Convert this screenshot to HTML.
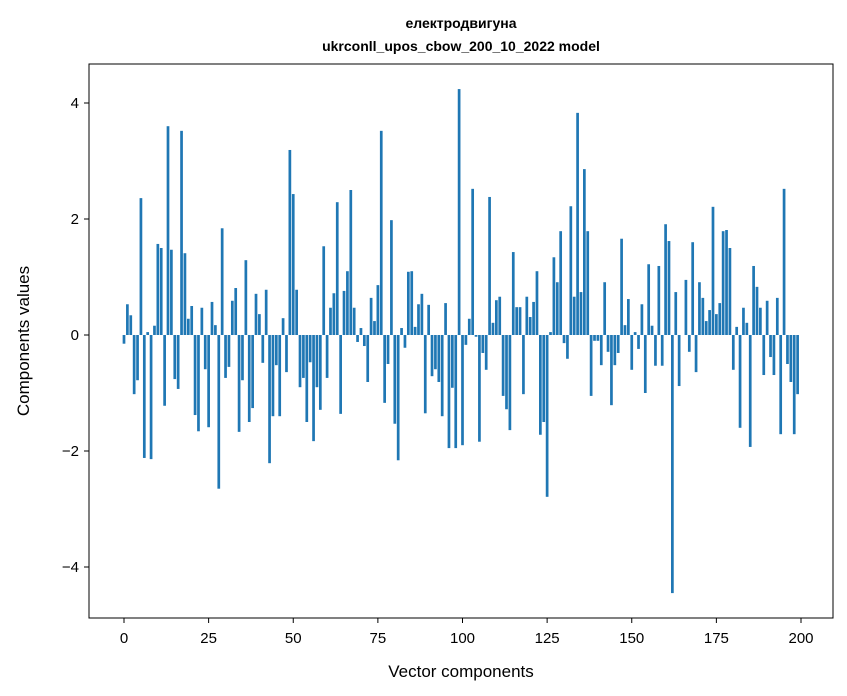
<!DOCTYPE html>
<html><head><meta charset="utf-8"><style>
body{margin:0;background:#fff}
svg{display:block;font-family:"Liberation Sans","DejaVu Sans",sans-serif}
</style></head><body>
<svg id="chart" width="847" height="696" viewBox="0 0 847 696">
<rect width="847" height="696" fill="#fff"/>
<text x="461" y="28" text-anchor="middle" font-size="14" font-weight="bold">електродвигуна</text>
<text x="461" y="51" text-anchor="middle" font-size="14" font-weight="bold">ukrconll_upos_cbow_200_10_2022 model</text>
<g id="bars"></g>
<g id="axes"></g>
<rect x="89" y="64" width="744" height="554" fill="none" stroke="#000" stroke-width="1"/>
<text x="461" y="677" text-anchor="middle" font-size="17">Vector components</text>
<text transform="translate(29,341) rotate(-90)" text-anchor="middle" font-size="17">Components values</text>
</svg>
<script>
const values = [
-0.15,0.53,0.34,-1.02,-0.78,2.36,-2.12,0.05,-2.14,0.16,
1.57,1.5,-1.22,3.6,1.47,-0.76,-0.93,3.52,1.41,0.28,
0.5,-1.38,-1.66,0.47,-0.59,-1.59,0.57,0.17,-2.65,1.84,
-0.74,-0.55,0.59,0.81,-1.67,-0.78,1.29,-1.5,-1.26,0.71,
0.36,-0.48,0.78,-2.21,-1.4,-0.52,-1.4,0.29,-0.64,3.19,
2.43,0.78,-0.9,-0.74,-1.5,-0.47,-1.83,-0.9,-1.29,1.53,
-0.74,0.47,0.72,2.29,-1.36,0.76,1.1,2.5,0.47,-0.12,
0.12,-0.19,-0.81,0.64,0.24,0.86,3.52,-1.17,-0.5,1.98,
-1.53,-2.16,0.12,-0.22,1.09,1.1,0.14,0.53,0.71,-1.35,
0.52,-0.71,-0.59,-0.81,-1.4,0.55,-1.95,-0.91,-1.95,4.24,
-1.9,-0.17,0.28,2.52,-0.03,-1.84,-0.31,-0.6,2.38,0.21,
0.6,0.66,-1.05,-1.28,-1.64,1.43,0.48,0.48,-1.02,0.66,
0.31,0.57,1.1,-1.72,-1.5,-2.79,0.05,1.34,0.91,1.79,
-0.14,-0.41,2.22,0.66,3.83,0.74,2.86,1.79,-1.05,-0.1,
-0.1,-0.52,0.91,-0.29,-1.21,-0.52,-0.31,1.66,0.17,0.62,
-0.6,0.05,-0.24,0.53,-1.0,1.22,0.16,-0.53,1.19,-0.53,
1.91,1.62,-4.45,0.74,-0.88,0.0,0.95,-0.29,1.6,-0.64,
0.91,0.64,0.24,0.43,2.21,0.36,0.55,1.79,1.81,1.5,
-0.6,0.14,-1.6,0.47,0.21,-1.93,1.19,0.83,0.47,-0.69,
0.59,-0.38,-0.69,0.64,-1.71,2.52,-0.5,-0.81,-1.71,-1.02
];
const xTicks = [0,25,50,75,100,125,150,175,200];
const yTicks = [-4,-2,0,2,4];
const yTickLabels = ["\u22124","\u22122","0","2","4"];

const NS = "http://www.w3.org/2000/svg";
const xs = v => 124 + v * (677 / 200);
const ys = v => 335 - v * 58;
const barW = 0.8 * 677 / 200;
const gb = document.getElementById('bars');
values.forEach((v, i) => {
  const r = document.createElementNS(NS, 'rect');
  
  
  r.setAttribute('x', xs(i) - barW / 2);
  r.setAttribute('y', Math.min(ys(v), ys(0)));
  r.setAttribute('width', barW);
  r.setAttribute('height', Math.abs(ys(v) - ys(0)));
  r.setAttribute('fill', '#1f77b4');
  gb.appendChild(r);
});
const ga = document.getElementById('axes');
xTicks.forEach(t => {
  const l = document.createElementNS(NS, 'line');
  
  
  l.setAttribute('x1', xs(t)); l.setAttribute('x2', xs(t));
  l.setAttribute('y1', 618); l.setAttribute('y2', 623);
  l.setAttribute('stroke', '#000');
  ga.appendChild(l);
  const tx = document.createElementNS(NS, 'text');
  
  
  tx.setAttribute('x', xs(t)); tx.setAttribute('y', 643);
  tx.setAttribute('text-anchor', 'middle');
  tx.setAttribute('font-size', '15');
  tx.textContent = t;
  ga.appendChild(tx);
});
yTicks.forEach((t, k) => {
  const l = document.createElementNS(NS, 'line');
  
  
  l.setAttribute('x1', 84); l.setAttribute('x2', 89);
  l.setAttribute('y1', ys(t)); l.setAttribute('y2', ys(t));
  l.setAttribute('stroke', '#000');
  ga.appendChild(l);
  const tx = document.createElementNS(NS, 'text');
  
  
  tx.setAttribute('x', 79); tx.setAttribute('y', ys(t) + 5);
  tx.setAttribute('text-anchor', 'end');
  tx.setAttribute('font-size', '15');
  tx.textContent = yTickLabels[k];
  ga.appendChild(tx);
});
</script>
</body></html>
